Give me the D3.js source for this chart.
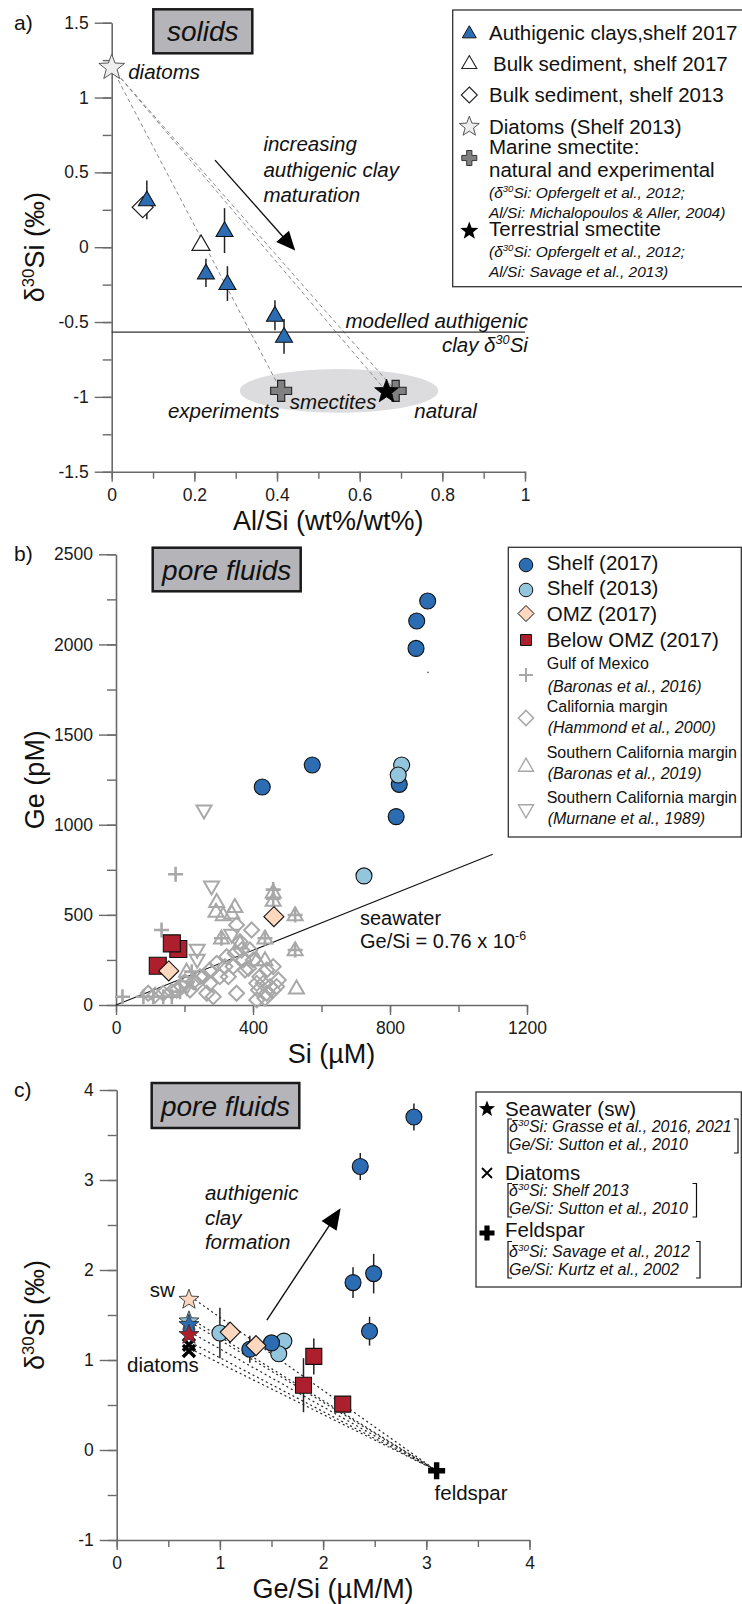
<!DOCTYPE html>
<html><head><meta charset="utf-8">
<script src="https://cdn.jsdelivr.net/npm/d3@7"></script>
<style>
body{margin:0;background:#fff}
svg{display:block}
</style></head><body>
<svg width="742" height="1604"></svg>
<script>
// ---------- panel a (solids): [Al/Si, d30Si, err] ----------
const clayA = [[0.085,0.316,0.13],[0.273,0.111,0.15],[0.228,-0.172,0.094],[0.28,-0.243,0.116],[0.395,-0.455,0.1],[0.417,-0.596,0.116]];
const bulk17A = [[0.216,0.02]];
const bulk13A = [[0.075,0.267]];
const diatomA = [[0,1.2]];
const marineSmecA = [[0.41,-0.96],[0.687,-0.96]];
const terrSmecA = [[0.665,-0.965]];
const smecCloudA = [[0.55,-0.96,0.24,0.146]]; // centre + radii
const modelledClayA = -0.567;
const maturationArrowA = [[0.25,0.582],[0.444,-0.022]];
const aXmaj = [0,0.2,0.4,0.6,0.8,1], aXmin = d3.range(0,1.01,0.1);
const aYmaj = [-1.5,-1,-0.5,0,0.5,1,1.5], aYmin = d3.range(-1.5,1.51,0.25);

// ---------- panel b (pore fluids): [Si uM, Ge pM] ----------
const shelf17B = [[910,2241],[878,2130],[876,1978],[573,1331],[427,1209],[827,1224],[818,1045]];
const shelf13B = [[834,1331],[824,1276],[724,716]];
const omzB = [[461,490],[154,189]];
const belowB = [[182,311],[163,342],[122,218]];
const strayB = [[911,1845]];
const gulfB = [[174,725],[133,416],[19,46],[459,640],[459,590],[523,499],[523,305],[308,370],[435,370],[80,46],[109,46],[138,46],[163,46],[221,185],[187,74]];
const hammondB = [[352,444],[396,416],[362,351],[367,305],[391,305],[372,250],[342,213],[318,213],[303,157],[274,120],[265,65],[284,46],[352,65],[328,157],[377,194],[420,157],[440,194],[459,213],[411,120],[430,120],[450,102],[469,102],[416,83],[440,65],[459,83],[411,28],[435,37],[474,139],[245,157],[235,120],[216,83],[226,129],[255,157],[94,65],[114,55],[138,65],[163,74],[177,83],[192,102],[201,129],[274,194],[294,231],[323,268],[348,287],[401,250],[387,203]];
const baronas19B = [[459,625],[459,580],[523,499],[523,305],[308,370],[435,370],[527,92],[294,573],[292,518],[347,545],[338,508],[313,499],[362,342],[206,185],[411,250],[435,250]];
const murnaneB = [[257,1078],[279,656],[237,305],[237,250],[206,102],[338,388]];
const seawaterGeSi = 0.76, seawaterSiMax = 1100;
const bXmaj = [0,400,800,1200], bXmin = d3.range(0,1201,200);
const bYmaj = [0,500,1000,1500,2000,2500], bYmin = d3.range(0,2501,250);

// ---------- panel c (pore fluids): [Ge/Si, d30Si, err] ----------
const shelf17C = [[2.88,3.70,0.15],[2.36,3.15,0.15],[2.29,1.86,0.17],[2.49,1.96,0.22],[2.45,1.32,0.16],[1.29,1.12,0.15],[1.50,1.19,0]];
const shelf13C = [[1.00,1.30,0.28],[1.62,1.21,0],[1.57,1.07,0]];
const omzC = [[1.10,1.31],[1.35,1.16]];
const belowC = [[1.91,1.04,0.2],[1.81,0.72,0.3],[2.19,0.51,0]];
const seawaterC = [[0.7,1.67],[0.7,1.43],[0.7,1.39],[0.7,1.28]];
const seawaterSite = ['omz','shelf13','shelf17','below'];
const diatomsC = [[0.7,1.17],[0.7,1.10]];
const feldsparC = [[3.1,-0.23]];
const clayArrowC = [[1.455,1.444],[2.17,2.685]];
const cXmaj = [0,1,2,3,4], cXmin = d3.range(0,4.01,0.5);
const cYmaj = [-1,0,1,2,3,4], cYmin = d3.range(-1,4.01,0.5);

// ---------- styles ----------
const FONT = '"Liberation Sans", Arial, Helvetica, sans-serif';
const DARK = '#2c6cb3', LIGHT = '#93c6dc', PEACH = '#fdd8bf', RED = '#ae1f2d', LIT = '#a8a8a8', AX = '#6a6a6a';
const siteColor = {omz: PEACH, shelf13: LIGHT, shelf17: DARK, below: RED};

const svg = d3.select('svg').attr('font-family', FONT);
svg.append('rect').attr('width', 742).attr('height', 1604).attr('fill', '#fff');

// ---------- marker paths ----------
function tri(cx, cy, s, flip) {
  const h = s * Math.sqrt(3) / 2, k = flip ? -1 : 1;
  return `M${cx},${cy - k*h*0.6}L${cx + s/2},${cy + k*h*0.4}L${cx - s/2},${cy + k*h*0.4}Z`;
}
function diamond(cx, cy, r) { return `M${cx},${cy-r}L${cx+r},${cy}L${cx},${cy+r}L${cx-r},${cy}Z`; }
function square(cx, cy, s) { return `M${cx-s/2},${cy-s/2}h${s}v${s}h${-s}Z`; }
function star(cx, cy, R) {
  const r = R * 0.42, p = [];
  for (let i = 0; i < 10; i++) {
    const a = -Math.PI/2 + i*Math.PI/5, rr = i % 2 ? r : R;
    p.push([cx + rr*Math.cos(a), cy + rr*Math.sin(a)]);
  }
  return 'M' + p.join('L') + 'Z';
}
function plus(cx, cy, a, t) {
  return `M${cx-t},${cy-a}H${cx+t}V${cy-t}H${cx+a}V${cy+t}H${cx+t}V${cy+a}H${cx-t}V${cy+t}H${cx-a}V${cy-t}H${cx-t}Z`;
}
function thinPlus(cx, cy, a) { return `M${cx-a},${cy}H${cx+a}M${cx},${cy-a}V${cy+a}`; }
function cross(cx, cy, a) { return `M${cx-a},${cy-a}L${cx+a},${cy+a}M${cx+a},${cy-a}L${cx-a},${cy+a}`; }
function arrowHead(x1, y1, x2, y2, L, W) {
  const a = Math.atan2(y2-y1, x2-x1), bx = x2 - L*Math.cos(a), by = y2 - L*Math.sin(a);
  const px = -Math.sin(a)*W/2, py = Math.cos(a)*W/2;
  return `M${x2},${y2}L${bx+px},${by+py}L${bx-px},${by-py}Z`;
}

// text with superscripts: parts = [[str, isSup], ...]
function rich(sel, parts, fs) {
  let up = false;
  parts.forEach(([s, sup]) => {
    const t = sel.append('tspan').text(s);
    if (sup) { t.attr('font-size', fs*0.62); if (!up) t.attr('dy', -fs*0.38); up = true; }
    else { if (up) t.attr('dy', fs*0.38); up = false; }
  });
  return sel;
}
function label(g, x, y, str, o = {}) {
  const fs = o.fs || 20.5;
  const t = g.append('text').attr('x', x).attr('y', y).attr('font-size', fs).attr('fill', o.fill || '#111')
    .attr('font-style', o.italic ? 'italic' : null).attr('text-anchor', o.anchor || null);
  if (Array.isArray(str)) rich(t, str, fs); else t.text(str);
  return t;
}

// ---------- axes ----------
function axes(g, x, y, o) {
  const y0 = y.range()[0], x0 = x.range()[0];
  const fmt = d => String(d);
  const bx = g.append('g').attr('transform', `translate(0,${y0})`);
  bx.append('g').call(d3.axisBottom(x).tickValues(o.xMin).tickSize(7).tickFormat('')).select('.domain').remove();
  bx.append('g').call(d3.axisBottom(x).tickValues(o.xMaj).tickSize(10).tickPadding(7).tickSizeOuter(0).tickFormat(fmt));
  const ly = g.append('g').attr('transform', `translate(${x0},0)`);
  ly.append('g').call(d3.axisLeft(y).tickValues(o.yMin).tickSize(9).tickFormat('')).select('.domain').remove();
  ly.append('g').call(d3.axisLeft(y).tickValues(o.yMaj).tickSize(17).tickPadding(6).tickSizeOuter(0).tickFormat(fmt));
  g.selectAll('g').attr('font-family', FONT).attr('font-size', 17.5);
  g.selectAll('.domain').attr('stroke', AX).attr('stroke-width', 1.6);
  g.selectAll('.tick line').attr('stroke', AX).attr('stroke-width', 1.4);
  g.selectAll('.tick text').attr('fill', '#1a1a1a');
  // titles
  const cx = (x.range()[0] + x.range()[1]) / 2 + 10;
  const xt = g.append('text').attr('x', cx).attr('y', y0 + 58).attr('text-anchor', 'middle').attr('font-size', 27).attr('fill', '#111');
  rich(xt, o.xTitle, 27);
  const cy = (y.range()[0] + y.range()[1]) / 2;
  const yt = g.append('text').attr('transform', `translate(44,${cy}) rotate(-90)`).attr('text-anchor', 'middle').attr('font-size', 27).attr('fill', '#111');
  rich(yt, o.yTitle, 27);
  // panel letter
  g.append('text').attr('x', 14).attr('y', y.range()[1] + 7).attr('font-size', 21).attr('fill', '#111').text(o.letter);
  // grey title box
  g.append('rect').attr('x', o.box[0]).attr('y', o.box[1]).attr('width', o.box[2]).attr('height', o.box[3])
    .attr('fill', '#b4b4b9').attr('stroke', '#1a1a1a').attr('stroke-width', 2.5);
  g.append('text').attr('x', o.box[0] + o.box[2]/2).attr('y', o.box[1] + o.box[3]/2 + 10).attr('text-anchor', 'middle')
    .attr('font-size', 28).attr('font-style', 'italic').attr('fill', '#111').text(o.boxText);
}
function errBars(g, data, x, y) {
  g.selectAll(null).data(data.filter(d => d[2] > 0)).join('line')
    .attr('x1', d => x(d[0])).attr('x2', d => x(d[0]))
    .attr('y1', d => y(d[1] - d[2])).attr('y2', d => y(d[1] + d[2]))
    .attr('stroke', '#222').attr('stroke-width', 1.5);
}
function marks(g, data, x, y, pathFn, fill, stroke, sw) {
  return g.selectAll(null).data(data).join('path')
    .attr('d', d => pathFn(x(d[0]), y(d[1])))
    .attr('fill', fill).attr('stroke', stroke).attr('stroke-width', sw);
}
function dots(g, data, x, y, r, fill) {
  return g.selectAll(null).data(data).join('circle')
    .attr('cx', d => x(d[0])).attr('cy', d => y(d[1])).attr('r', r)
    .attr('fill', fill).attr('stroke', '#111').attr('stroke-width', 1.1);
}
function legendBox(g, x0, y0, x1, y1) {
  g.append('rect').attr('x', x0).attr('y', y0).attr('width', x1 - x0).attr('height', y1 - y0)
    .attr('fill', '#fff').attr('stroke', '#333').attr('stroke-width', 1.3);
}

// =============== PANEL A ===============
const xA = d3.scaleLinear([0, 1], [111.7, 525]);
const yA = d3.scaleLinear([-1.5, 1.5], [471.7, 22.7]);
const gA = svg.append('g');
gA.selectAll(null).data(smecCloudA).join('ellipse')
  .attr('cx', d => xA(d[0])).attr('cy', d => yA(d[1]))
  .attr('rx', d => xA(d[2]) - xA(0)).attr('ry', d => yA(0) - yA(d[3])).attr('fill', '#dcdcde');
axes(gA, xA, yA, {xMaj: aXmaj, xMin: aXmin, yMaj: aYmaj, yMin: aYmin,
  xTitle: [['Al/Si (wt%/wt%)']], yTitle: [['δ'], ['30', true], ['Si (‰)']], letter: 'a)',
  box: [153.3, 9.3, 99, 44], boxText: 'solids'});
// mixing lines from diatoms
gA.selectAll(null).data([marineSmecA[0], terrSmecA[0], marineSmecA[1]]).join('line')
  .attr('x1', xA(diatomA[0][0])).attr('y1', yA(diatomA[0][1]))
  .attr('x2', d => xA(d[0])).attr('y2', d => yA(d[1]))
  .attr('stroke', '#8a8a8a').attr('stroke-width', 1).attr('stroke-dasharray', '4,3');
gA.append('line').attr('x1', xA(0)).attr('x2', xA(1)).attr('y1', yA(modelledClayA)).attr('y2', yA(modelledClayA))
  .attr('stroke', '#333').attr('stroke-width', 1.3);
{
  const [p, q] = maturationArrowA.map(d => [xA(d[0]), yA(d[1])]);
  const a = Math.atan2(q[1]-p[1], q[0]-p[0]);
  gA.append('line').attr('x1', p[0]).attr('y1', p[1]).attr('x2', q[0] - 14*Math.cos(a)).attr('y2', q[1] - 14*Math.sin(a))
    .attr('stroke', '#111').attr('stroke-width', 1.4);
  gA.append('path').attr('d', arrowHead(p[0], p[1], q[0], q[1], 19, 17)).attr('fill', '#000');
}
errBars(gA, clayA, xA, yA);
marks(gA, bulk13A, xA, yA, (x, y) => diamond(x, y, 10.5), '#fff', '#222', 1.2);
marks(gA, bulk17A, xA, yA, (x, y) => tri(x, y, 18), '#fff', '#222', 1.2);
marks(gA, clayA, xA, yA, (x, y) => tri(x, y, 17), DARK, '#111', 1.1);
marks(gA, marineSmecA, xA, yA, (x, y) => plus(x, y, 10.5, 3.6), '#808080', '#222', 1.1);
marks(gA, terrSmecA, xA, yA, (x, y) => star(x, y, 12.5), '#000', '#000', 0.8);
marks(gA, diatomA, xA, yA, (x, y) => star(x, y, 13.5), '#eeeeee', '#555', 1);
label(gA, xA(0.04), yA(1.123), 'diatoms', {italic: true});
label(gA, xA(0.367), yA(0.645), 'increasing', {italic: true});
label(gA, xA(0.367), yA(0.467), 'authigenic clay', {italic: true});
label(gA, xA(0.367), yA(0.3), 'maturation', {italic: true});
label(gA, xA(1.007), yA(-0.538), 'modelled authigenic', {italic: true, anchor: 'end'});
label(gA, xA(1.007), yA(-0.70), [['clay δ'], ['30', true], ['Si']], {italic: true, anchor: 'end'});
label(gA, xA(0.136), yA(-1.144), 'experiments', {italic: true});
label(gA, xA(0.431), yA(-1.078), 'smectites', {italic: true});
label(gA, xA(0.732), yA(-1.144), 'natural', {italic: true});

// legend a
{
  const g = svg.append('g');
  legendBox(g, 452.7, 10, 760, 286.7);
  const mx = 469.3, tx = 489;
  g.append('path').attr('d', tri(mx, 33, 14)).attr('fill', DARK).attr('stroke', '#111').attr('stroke-width', 1);
  g.append('path').attr('d', tri(mx, 63.3, 15)).attr('fill', '#fff').attr('stroke', '#222').attr('stroke-width', 1.1);
  g.append('path').attr('d', diamond(mx, 95, 8)).attr('fill', '#fff').attr('stroke', '#222').attr('stroke-width', 1.1);
  g.append('path').attr('d', star(mx, 126.7, 10.5)).attr('fill', '#eee').attr('stroke', '#555').attr('stroke-width', 1);
  g.append('path').attr('d', plus(mx, 158, 7.5, 2.6)).attr('fill', '#808080').attr('stroke', '#333').attr('stroke-width', 1);
  g.append('path').attr('d', star(mx, 231, 9.5)).attr('fill', '#000');
  label(g, tx, 40, 'Authigenic clays,shelf 2017');
  label(g, tx + 4, 70.5, 'Bulk sediment, shelf 2017');
  label(g, tx, 102, 'Bulk sediment, shelf 2013');
  label(g, tx, 134, 'Diatoms (Shelf 2013)');
  label(g, tx, 154, 'Marine smectite:');
  label(g, tx, 177, 'natural and experimental');
  label(g, tx, 198, [['(δ'], ['30', true], ['Si: Opfergelt et al., 2012;']], {italic: true, fs: 15.5});
  label(g, tx, 217.5, 'Al/Si: Michalopoulos & Aller, 2004)', {italic: true, fs: 15.5});
  label(g, tx, 236, 'Terrestrial smectite');
  label(g, tx, 256.5, [['(δ'], ['30', true], ['Si: Opfergelt et al., 2012;']], {italic: true, fs: 15.5});
  label(g, tx, 276.5, 'Al/Si: Savage et al., 2013)', {italic: true, fs: 15.5});
}

// =============== PANEL B ===============
const xB = d3.scaleLinear([0, 1200], [116, 527]);
const yB = d3.scaleLinear([0, 2500], [1005, 554.3]);
const gB = svg.append('g');
axes(gB, xB, yB, {xMaj: bXmaj, xMin: bXmin, yMaj: bYmaj, yMin: bYmin,
  xTitle: [['Si (µM)']], yTitle: [['Ge (pM)']], letter: 'b)',
  box: [152.7, 547.7, 148, 43.6], boxText: 'pore fluids'});
gB.append('line').attr('x1', xB(0)).attr('y1', yB(0))
  .attr('x2', xB(seawaterSiMax)).attr('y2', yB(seawaterSiMax * seawaterGeSi))
  .attr('stroke', '#111').attr('stroke-width', 1.1);
marks(gB, hammondB, xB, yB, (x, y) => diamond(x, y, 7.5), 'none', LIT, 2);
marks(gB, murnaneB, xB, yB, (x, y) => tri(x, y, 15, true), 'none', LIT, 2);
marks(gB, baronas19B, xB, yB, (x, y) => tri(x, y, 15), 'none', LIT, 2);
marks(gB, gulfB, xB, yB, (x, y) => thinPlus(x, y, 7.5), 'none', LIT, 2.6);
marks(gB, belowB, xB, yB, (x, y) => square(x, y, 17), RED, '#111', 1.1);
marks(gB, omzB, xB, yB, (x, y) => diamond(x, y, 10), PEACH, '#111', 1.1);
dots(gB, shelf17B, xB, yB, 8, DARK);
dots(gB, shelf13B, xB, yB, 8, LIGHT);
gB.selectAll(null).data(strayB).join('circle').attr('cx', d => xB(d[0])).attr('cy', d => yB(d[1])).attr('r', 0.8).attr('fill', '#555');
label(gB, 360, 925, 'seawater', {fs: 20});
label(gB, 360, 948, [['Ge/Si = 0.76 x 10'], ['-6', true]], {fs: 20});

// legend b
{
  const g = svg.append('g');
  legendBox(g, 508.3, 547.3, 741.3, 837);
  const mx = 526, tx = 546.7;
  g.append('circle').attr('cx', mx).attr('cy', 565).attr('r', 6.8).attr('fill', DARK).attr('stroke', '#111');
  g.append('circle').attr('cx', mx).attr('cy', 590).attr('r', 6.8).attr('fill', LIGHT).attr('stroke', '#111');
  g.append('path').attr('d', diamond(mx, 613.5, 8)).attr('fill', PEACH).attr('stroke', '#111');
  g.append('path').attr('d', square(mx, 640, 11)).attr('fill', RED).attr('stroke', '#111');
  g.append('path').attr('d', thinPlus(mx, 675, 7)).attr('stroke', LIT).attr('stroke-width', 2);
  g.append('path').attr('d', diamond(mx, 718, 7.5)).attr('fill', 'none').attr('stroke', LIT).attr('stroke-width', 1.6);
  g.append('path').attr('d', tri(mx, 766, 15)).attr('fill', 'none').attr('stroke', LIT).attr('stroke-width', 1.4);
  g.append('path').attr('d', tri(mx, 810, 15, true)).attr('fill', 'none').attr('stroke', LIT).attr('stroke-width', 1.4);
  label(g, tx, 570, 'Shelf (2017)');
  label(g, tx, 595, 'Shelf (2013)');
  label(g, tx, 621, 'OMZ (2017)');
  label(g, tx, 647, 'Below OMZ (2017)');
  label(g, tx, 668.5, 'Gulf of Mexico', {fs: 16});
  label(g, tx + 1, 692, '(Baronas et al., 2016)', {fs: 16, italic: true});
  label(g, tx, 712, 'California margin', {fs: 16});
  label(g, tx + 1, 732.5, '(Hammond et al., 2000)', {fs: 16, italic: true});
  label(g, tx, 757.5, 'Southern California margin', {fs: 16});
  label(g, tx + 1, 779, '(Baronas et al., 2019)', {fs: 16, italic: true});
  label(g, tx, 802.5, 'Southern California margin', {fs: 16});
  label(g, tx + 1, 824, '(Murnane et al., 1989)', {fs: 16, italic: true});
}

// =============== PANEL C ===============
const xC = d3.scaleLinear([0, 4], [116.7, 529.5]);
const yC = d3.scaleLinear([-1, 4], [1540, 1090]);
const gC = svg.append('g');
axes(gC, xC, yC, {xMaj: cXmaj, xMin: cXmin, yMaj: cYmaj, yMin: cYmin,
  xTitle: [['Ge/Si (µM/M)']], yTitle: [['δ'], ['30', true], ['Si (‰)']], letter: 'c)',
  box: [151.7, 1083, 147.6, 45], boxText: 'pore fluids'});
// mixing lines to feldspar
gC.selectAll(null).data(seawaterC.concat(diatomsC)).join('line')
  .attr('x1', d => xC(d[0]) + 6).attr('y1', d => yC(d[1]))
  .attr('x2', xC(feldsparC[0][0])).attr('y2', yC(feldsparC[0][1]))
  .attr('stroke', '#222').attr('stroke-width', 1.2).attr('stroke-dasharray', '2,3');
{
  const [p, q] = clayArrowC.map(d => [xC(d[0]), yC(d[1])]);
  const a = Math.atan2(q[1]-p[1], q[0]-p[0]);
  gC.append('line').attr('x1', p[0]).attr('y1', p[1]).attr('x2', q[0] - 15*Math.cos(a)).attr('y2', q[1] - 15*Math.sin(a))
    .attr('stroke', '#111').attr('stroke-width', 1.4);
  gC.append('path').attr('d', arrowHead(p[0], p[1], q[0], q[1], 21, 18)).attr('fill', '#000');
}
errBars(gC, shelf17C.concat(shelf13C, belowC), xC, yC);
dots(gC, shelf13C, xC, yC, 8, LIGHT);
dots(gC, shelf17C, xC, yC, 8, DARK);
marks(gC, belowC, xC, yC, (x, y) => square(x, y, 16), RED, '#111', 1.1);
marks(gC, omzC, xC, yC, (x, y) => diamond(x, y, 10), PEACH, '#111', 1.1);
marks(gC, diatomsC, xC, yC, (x, y) => cross(x, y, 6), 'none', '#000', 3.4);
gC.selectAll(null).data(seawaterC).join('path')
  .attr('d', d => star(xC(d[0]), yC(d[1]), 10.5))
  .attr('fill', (d, i) => siteColor[seawaterSite[i]]).attr('stroke', '#333').attr('stroke-width', 0.9);
marks(gC, feldsparC, xC, yC, (x, y) => plus(x, y, 8.5, 2.7), '#000', 'none', 0);
label(gC, xC(0.855), yC(2.78), 'authigenic', {italic: true});
label(gC, xC(0.855), yC(2.5), 'clay', {italic: true});
label(gC, xC(0.855), yC(2.23), 'formation', {italic: true});
label(gC, xC(0.32), yC(1.7), 'sw');
label(gC, xC(0.10), yC(0.87), 'diatoms');
label(gC, xC(3.08), yC(-0.56), 'feldspar');

// legend c
{
  const g = svg.append('g');
  legendBox(g, 476, 1092, 741.3, 1287);
  const mx = 487, tx = 505, sx = 509, fs = 16;
  g.append('path').attr('d', star(mx, 1109, 8.5)).attr('fill', '#000');
  g.append('path').attr('d', cross(mx, 1173, 5)).attr('stroke', '#000').attr('stroke-width', 1.8);
  g.append('path').attr('d', plus(mx, 1233, 7.5, 2.6)).attr('fill', '#000');
  label(g, tx, 1116, 'Seawater (sw)');
  label(g, sx, 1132, [['δ'], ['30', true], ['Si: Grasse et al., 2016, 2021']], {italic: true, fs});
  label(g, sx, 1150, 'Ge/Si: Sutton et al., 2010', {italic: true, fs});
  label(g, tx, 1179.5, 'Diatoms');
  label(g, sx, 1196, [['δ'], ['30', true], ['Si: Shelf 2013']], {italic: true, fs});
  label(g, sx, 1213.5, 'Ge/Si: Sutton et al., 2010', {italic: true, fs});
  label(g, tx, 1237, 'Feldspar');
  label(g, sx, 1257, [['δ'], ['30', true], ['Si: Savage et al., 2012']], {italic: true, fs});
  label(g, sx, 1274.5, 'Ge/Si: Kurtz et al., 2002', {italic: true, fs});
  const brackets = [[1119, 1153, 738], [1183.5, 1217, 696.5], [1241.5, 1278, 700]];
  brackets.forEach(([t, b, r]) => {
    g.append('path').attr('d', `M${sx+3},${t}H${sx-1}V${b}H${sx+3}M${r-4},${t}H${r}V${b}H${r-4}`)
      .attr('fill', 'none').attr('stroke', '#111').attr('stroke-width', 1.2);
  });
}
</script>
</body></html>
